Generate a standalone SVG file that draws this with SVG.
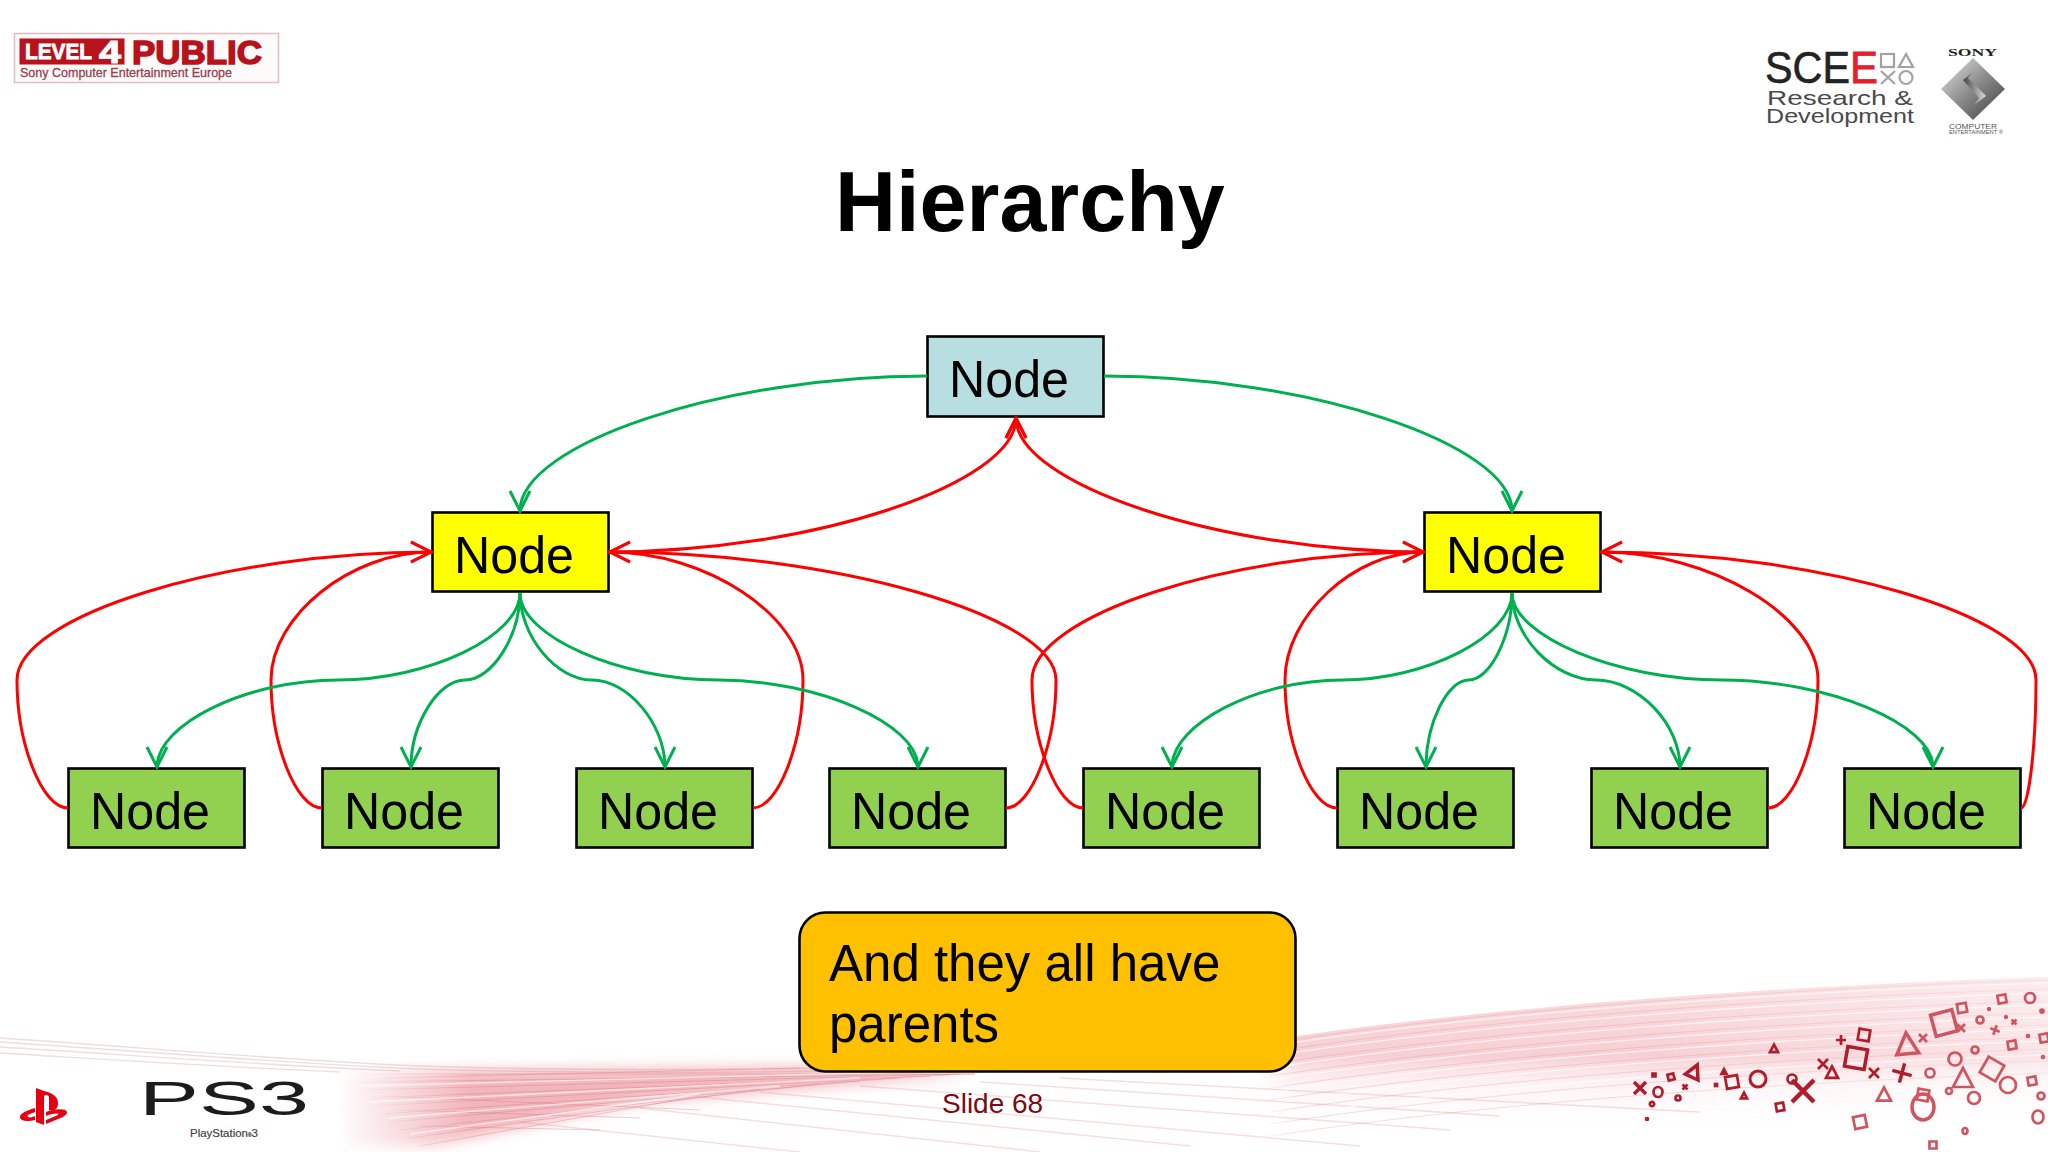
<svg xmlns="http://www.w3.org/2000/svg" width="2048" height="1152" viewBox="0 0 2048 1152">
<style>
text{font-family:"Liberation Sans",Arial,sans-serif}
.box{stroke:#000;stroke-width:2.6}
.lbl{font-size:52px;fill:#000}
.lf{fill:#92D050}.yl{fill:#FFFF00}.rt{fill:#B7DEE0}
.g{fill:none;stroke:#00B050;stroke-width:3;marker-end:url(#ag)}
.r{fill:none;stroke:#FF0000;stroke-width:3;marker-end:url(#ar)}
#sq,#tr,#ci,#xx,#pl{vector-effect:non-scaling-stroke}
.sym{fill:none;stroke-width:2.7}
.a{stroke:#b01c2a}.b{stroke:#cf5560}
.streakw{fill:none;stroke:#fff;stroke-width:1.3;opacity:.65}
.streakr{fill:none;stroke:#e27f88;stroke-width:.9;opacity:.3}
.fan{fill:none;stroke:#dd6a76;stroke-width:.9;opacity:.38}
.low{fill:none;stroke:#f3d3d6;stroke-width:1.5;opacity:.75}
</style>
<defs>
<marker id="ag" markerUnits="userSpaceOnUse" markerWidth="26" markerHeight="26" refX="22" refY="12" orient="auto" overflow="visible"><path d="M2 2L22 12L2 22" fill="none" stroke="#00B050" stroke-width="3"/></marker>
<marker id="ar" markerUnits="userSpaceOnUse" markerWidth="26" markerHeight="26" refX="22" refY="12" orient="auto" overflow="visible"><path d="M2 2L22 12L2 22" fill="none" stroke="#FF0000" stroke-width="3"/></marker>
<linearGradient id="wash2" gradientUnits="userSpaceOnUse" x1="0" y1="1000" x2="0" y2="1125"><stop offset="0" stop-color="#e87a85" stop-opacity=".28"/><stop offset=".45" stop-color="#e87a85" stop-opacity=".36"/><stop offset=".68" stop-color="#f0a3aa" stop-opacity=".12"/><stop offset="1" stop-color="#f6c4c8" stop-opacity="0"/></linearGradient>
<linearGradient id="fadeH" gradientUnits="userSpaceOnUse" x1="335" y1="0" x2="470" y2="0"><stop offset="0" stop-color="#000"/><stop offset="1" stop-color="#fff"/></linearGradient>
<mask id="fade" maskUnits="userSpaceOnUse" x="0" y="950" width="2048" height="202"><rect x="0" y="950" width="2048" height="202" fill="url(#fadeH)"/></mask>
<linearGradient id="fadeR" gradientUnits="userSpaceOnUse" x1="1250" y1="0" x2="2048" y2="0"><stop offset="0" stop-color="#000"/><stop offset=".06" stop-color="#fff"/><stop offset=".5" stop-color="#fff"/><stop offset="1" stop-color="#888"/></linearGradient>
<mask id="fadeRight" maskUnits="userSpaceOnUse" x="1200" y="950" width="848" height="202"><rect x="1200" y="950" width="848" height="202" fill="url(#fadeR)"/></mask>
<filter id="soft" x="-10%" y="-30%" width="120%" height="160%"><feGaussianBlur stdDeviation="7"/></filter>
<linearGradient id="dia" x1="0" y1="0" x2="1" y2="1"><stop offset="0" stop-color="#e8e8e8"/><stop offset=".5" stop-color="#8a8a8a"/><stop offset="1" stop-color="#3c3c3c"/></linearGradient>
<linearGradient id="dia2" x1="0" y1="0" x2="1" y2="0"><stop offset="0" stop-color="#444"/><stop offset="1" stop-color="#ddd"/></linearGradient>
<path id="edge2" d="M1270 1040C1500 1005 1800 985 2048 977"/>
<rect id="sq" x="-1" y="-1" width="2" height="2"/>
<polygon id="tr" points="0,-1.1 1,.8 -1,.8"/>
<circle id="ci" r="1"/>
<path id="xx" d="M-1 -1L1 1M1 -1L-1 1"/>
<path id="pl" d="M-1 0L1 0M0 -1L0 1"/>
</defs>
<rect width="2048" height="1152" fill="#fff"/>

<g id="background">
<g fill="none" stroke="#e8cfd1" stroke-width="1.4" opacity=".7">
<path d="M0 1038C150 1048 280 1060 420 1066C600 1072 760 1070 900 1066"/><path d="M0 1042C150 1052 280 1063 420 1069C600 1074 740 1073 860 1070"/><path d="M0 1047C130 1055 260 1065 400 1071"/><path d="M0 1053C100 1059 220 1067 340 1072"/>
</g>
<g class="low">
<path d="M520 1122L800 1152"/><path d="M640 1108L1040 1152"/><path d="M700 1097L1190 1146"/><path d="M760 1092L1360 1146"/><path d="M860 1086L1450 1130"/><path d="M980 1082L1500 1116"/><path d="M1060 1078L1700 1112"/>
</g>
<g mask="url(#fade)">
<path d="M330 1072L800 1067L975 1074L640 1102L430 1146L340 1146Z" fill="#e98a94" opacity=".62" filter="url(#soft)"/>
<path class="fan" d="M360 1074L975 1074"/><path class="fan" d="M360 1082L975 1074"/><path class="fan" d="M360 1090L960 1074"/><path class="fan" d="M370 1098L950 1075"/><path class="fan" d="M370 1106L930 1076"/><path class="fan" d="M380 1114L900 1078"/><path class="fan" d="M390 1122L860 1081"/><path class="fan" d="M400 1130L820 1084"/><path class="fan" d="M410 1138L760 1089"/><path class="fan" d="M420 1146L700 1096"/>
<path class="fan" d="M380 1078L800 1068"/><path class="fan" d="M380 1096L700 1110"/><path class="fan" d="M400 1110L640 1118"/><path class="fan" d="M420 1126L600 1130"/>
<path class="streakw" d="M360 1086L900 1072"/><path class="streakw" d="M370 1102L860 1078"/><path class="streakw" d="M390 1118L780 1086"/><path class="streakw" d="M410 1134L700 1094"/>
</g>
<g mask="url(#fadeRight)">
<path d="M1200 1050L1270 1040C1500 1005 1800 985 2048 977L2048 1152L1200 1152Z" fill="url(#wash2)"/>
<use href="#edge2" class="streakr" y="3"/><use href="#edge2" class="streakr" y="12"/><use href="#edge2" class="streakr" y="24"/><use href="#edge2" class="streakr" y="36"/><use href="#edge2" class="streakr" y="48"/><use href="#edge2" class="streakr" y="60"/><use href="#edge2" class="streakr" y="72"/><use href="#edge2" class="streakr" y="84"/><use href="#edge2" class="streakr" y="96"/>
<use href="#edge2" class="streakw" y="6"/><use href="#edge2" class="streakw" y="16"/><use href="#edge2" class="streakw" y="28"/><use href="#edge2" class="streakw" y="40"/><use href="#edge2" class="streakw" y="52"/><use href="#edge2" class="streakw" y="64"/><use href="#edge2" class="streakw" y="78"/>
</g>
</g>

<g id="symbols" class="sym">
<g class="a">
<use href="#xx" transform="translate(1640 1088) scale(6)" stroke-width="3.500"/><use href="#ci" transform="translate(1658 1092) scale(4.500 5)"/><use href="#sq" transform="translate(1654 1075) scale(1.500)"/><use href="#sq" transform="translate(1671 1077) rotate(-15) scale(3)"/>
<use href="#tr" transform="translate(1694 1072) rotate(25) scale(7)" stroke-width="3.500"/><use href="#xx" transform="translate(1685 1087) scale(2.500)"/><use href="#ci" transform="translate(1678 1098) scale(2.500)"/><use href="#ci" transform="translate(1652 1104) scale(2.200)"/><use href="#ci" transform="translate(1647 1119) scale(1)"/>
<use href="#tr" transform="translate(1724 1072) scale(2.500)"/><use href="#sq" transform="translate(1716 1085) scale(1)"/><use href="#sq" transform="translate(1732 1082) rotate(-10) scale(6)"/><use href="#ci" transform="translate(1758 1079) scale(8)" stroke-width="3"/><use href="#tr" transform="translate(1744 1096) scale(3)"/><use href="#tr" transform="translate(1774 1049) scale(4)"/>
<use href="#ci" transform="translate(1792 1079) scale(4.500)"/><use href="#xx" transform="translate(1803 1091) scale(11)" stroke-width="4.500"/><use href="#sq" transform="translate(1780 1107) rotate(-10) scale(3.800)"/><use href="#xx" transform="translate(1823 1064) scale(5)"/><use href="#tr" transform="translate(1832 1073) scale(6)"/><use href="#pl" transform="translate(1841 1040) scale(5)"/>
<use href="#sq" transform="translate(1864 1035) rotate(10) scale(5.500)"/><use href="#sq" transform="translate(1856 1058) rotate(10) scale(10)" stroke-width="3.500"/><use href="#xx" transform="translate(1874 1073) scale(5)"/><use href="#pl" transform="translate(1902 1073) rotate(15) scale(10)" stroke-width="3.500"/>
</g>
<g class="b">
<use href="#tr" transform="translate(1907 1045) rotate(-5) scale(11)" stroke-width="3.500"/><use href="#xx" transform="translate(1923 1038) scale(4)"/><use href="#sq" transform="translate(1944 1023) rotate(-15) scale(11)" stroke-width="3.500"/><use href="#sq" transform="translate(1962 1008) rotate(-10) scale(4.500)"/><use href="#xx" transform="translate(1961 1028) scale(4)"/><use href="#sq" transform="translate(2002 999) rotate(-10) scale(4)"/><use href="#ci" transform="translate(2030 998) scale(5)"/><use href="#ci" transform="translate(1980 1020) scale(3.500)"/><use href="#pl" transform="translate(1989 1009) scale(2)"/><use href="#pl" transform="translate(2006 1017) scale(2)"/><use href="#xx" transform="translate(2014 1022) scale(2.500)"/><use href="#pl" transform="translate(1995 1030) rotate(20) scale(5)"/>
<use href="#ci" transform="translate(2042 1011) scale(1.500)"/><use href="#ci" transform="translate(2028 1036) scale(1)"/><use href="#sq" transform="translate(2044 1038) rotate(-10) scale(4)"/><use href="#sq" transform="translate(2012 1045) rotate(-10) scale(4)"/><use href="#ci" transform="translate(1975 1050) scale(3.500)"/><use href="#ci" transform="translate(1955 1059) scale(6.500)"/><use href="#ci" transform="translate(2043 1057) scale(1)"/><use href="#sq" transform="translate(1992 1069) rotate(30) scale(9)"/><use href="#ci" transform="translate(1930 1073) scale(4.500)"/><use href="#tr" transform="translate(1963 1079) scale(10)"/><use href="#ci" transform="translate(2008 1085) scale(8)"/><use href="#sq" transform="translate(2032 1081) rotate(-10) scale(4)"/><use href="#ci" transform="translate(1949 1091) scale(3)"/><use href="#ci" transform="translate(1974 1098) scale(6)"/><use href="#ci" transform="translate(2041 1096) scale(3.500)"/><use href="#tr" transform="translate(1884 1095) scale(7)"/><use href="#sq" transform="translate(1923 1095) rotate(10) scale(5.500)"/><use href="#ci" transform="translate(1923 1107) scale(11 13)" stroke-width="3.500"/><use href="#sq" transform="translate(1860 1122) rotate(-12) scale(6)"/><use href="#ci" transform="translate(1965 1131) scale(2.500 3)"/><use href="#sq" transform="translate(1933 1145) scale(3.500)"/><use href="#ci" transform="translate(2038 1117) scale(5.500 6.500)"/>
</g>
</g>

<g id="logo-level4">
<rect x="14.500" y="33.500" width="264" height="49" fill="#fdfafa" stroke="#e4bcc0" stroke-width="1.500"/>
<rect x="19.500" y="38.500" width="105" height="26" fill="#b8121c"/>
<text x="25" y="59" font-size="22" font-weight="700" fill="#fff" stroke="#fff" stroke-width=".8" textLength="67" lengthAdjust="spacingAndGlyphs">LEVEL</text>
<text x="99" y="63" font-size="31" font-weight="700" fill="#fff" stroke="#fff" stroke-width="1" textLength="22" lengthAdjust="spacingAndGlyphs">4</text>
<text x="132" y="64" font-size="33" font-weight="700" fill="#b8121c" stroke="#b8121c" stroke-width="1.500" textLength="130" lengthAdjust="spacingAndGlyphs">PUBLIC</text>
<text x="20" y="77" font-size="13.500" fill="#96404e" stroke="#96404e" stroke-width=".3" textLength="212" lengthAdjust="spacingAndGlyphs">Sony Computer Entertainment Europe</text>
</g>

<g id="logo-scee">
<text x="1765" y="83" font-size="45" fill="#232323" stroke="#232323" stroke-width=".6" textLength="85" lengthAdjust="spacingAndGlyphs">SCE</text>
<text x="1850" y="83" font-size="45" fill="#e3202b" stroke="#e3202b" stroke-width=".8" textLength="28" lengthAdjust="spacingAndGlyphs">E</text>
<g fill="none" stroke="#a2a2a2" stroke-width="2.200">
<rect x="1881" y="54" width="13" height="13"/><polygon points="1906,54 1913,67 1899,67"/><path d="M1881 71L1895 84M1895 71L1881 84"/><circle cx="1906" cy="77.500" r="6.500"/>
</g>
<text x="1767" y="105" font-size="21" fill="#4a4a4a" textLength="146" lengthAdjust="spacingAndGlyphs">Research &amp;</text>
<text x="1766" y="123" font-size="21" fill="#4a4a4a" textLength="148" lengthAdjust="spacingAndGlyphs">Development</text>
</g>

<g id="logo-sony">
<text x="1948" y="56" font-size="11" font-weight="700" fill="#222" style="font-family:'Liberation Serif',serif" textLength="49" lengthAdjust="spacingAndGlyphs">SONY</text>
<polygon points="1973,58 2005,89 1973,120 1941,89" fill="url(#dia)"/>
<polygon points="1973,72 1963,80 1979,98 1973,106 1986,96 1968,78" fill="url(#dia2)"/>
<text x="1949" y="129" font-size="8" fill="#555" textLength="48" lengthAdjust="spacingAndGlyphs">COMPUTER</text>
<text x="1949" y="134" font-size="4.500" fill="#555" textLength="54" lengthAdjust="spacingAndGlyphs">ENTERTAINMENT ®</text>
</g>

<g id="logo-ps">
<path d="M36 1088L44 1091C52 1093 58 1096 58 1103C58 1110 53 1112 49 1110L49 1097C49 1095 44 1094 44 1097L44 1125L36 1122Z" fill="#e60012"/>
<path d="M20 1117C20 1113 28 1110 35 1108L35 1112C30 1114 26 1115 28 1117C30 1118 33 1117 35 1116L35 1120C28 1122 20 1121 20 1117ZM46 1112C54 1109 66 1108 67 1112C68 1116 58 1119 46 1124L46 1120L58 1115C60 1113 54 1113 46 1116Z" fill="#e60012"/>
<text x="139" y="1115" font-size="49" fill="#1c1c1c" textLength="170" lengthAdjust="spacingAndGlyphs">PS3</text>
<text x="190" y="1137" font-size="11.500" fill="#444" stroke="#444" stroke-width=".2" textLength="68" lengthAdjust="spacingAndGlyphs">PlayStation<tspan font-size="5">®</tspan>3</text>
</g>

<text id="title" x="835" y="231" font-size="84.500" font-weight="700" fill="#000">Hierarchy</text>

<g id="node-root"><rect class="box rt" x="927.500" y="336.500" width="176" height="80"/><text class="lbl" x="949" y="397" textLength="120" lengthAdjust="spacingAndGlyphs">Node</text></g>
<g id="node-a"><rect class="box yl" x="432.500" y="512.500" width="176" height="79"/><text class="lbl" x="454" y="573" textLength="120" lengthAdjust="spacingAndGlyphs">Node</text></g>
<g id="node-b"><rect class="box yl" x="1424.500" y="512.500" width="176" height="79"/><text class="lbl" x="1446" y="573" textLength="120" lengthAdjust="spacingAndGlyphs">Node</text></g>
<g id="node-a1"><rect class="box lf" x="68.500" y="768.500" width="176" height="79"/><text class="lbl" x="90" y="829" textLength="120" lengthAdjust="spacingAndGlyphs">Node</text></g>
<g id="node-a2"><rect class="box lf" x="322.500" y="768.500" width="176" height="79"/><text class="lbl" x="344" y="829" textLength="120" lengthAdjust="spacingAndGlyphs">Node</text></g>
<g id="node-a3"><rect class="box lf" x="576.500" y="768.500" width="176" height="79"/><text class="lbl" x="598" y="829" textLength="120" lengthAdjust="spacingAndGlyphs">Node</text></g>
<g id="node-a4"><rect class="box lf" x="829.500" y="768.500" width="176" height="79"/><text class="lbl" x="851" y="829" textLength="120" lengthAdjust="spacingAndGlyphs">Node</text></g>
<g id="node-b1"><rect class="box lf" x="1083.500" y="768.500" width="176" height="79"/><text class="lbl" x="1105" y="829" textLength="120" lengthAdjust="spacingAndGlyphs">Node</text></g>
<g id="node-b2"><rect class="box lf" x="1337.500" y="768.500" width="176" height="79"/><text class="lbl" x="1359" y="829" textLength="120" lengthAdjust="spacingAndGlyphs">Node</text></g>
<g id="node-b3"><rect class="box lf" x="1591.500" y="768.500" width="176" height="79"/><text class="lbl" x="1613" y="829" textLength="120" lengthAdjust="spacingAndGlyphs">Node</text></g>
<g id="node-b4"><rect class="box lf" x="1844.500" y="768.500" width="176" height="79"/><text class="lbl" x="1866" y="829" textLength="120" lengthAdjust="spacingAndGlyphs">Node</text></g>

<g id="connectors">
<path class="r" d="M608 552C812 552 1016 484 1016 418"/>
<path class="r" d="M1424 552C1220 552 1016 484 1016 418"/>
<path class="r" d="M68 808C42 808 17 744 17 680C17 616 224 552 431 552"/>
<path class="r" d="M322 808C296 808 271 744 271 680C271 616 351 552 431 552"/>
<path class="r" d="M753 808C778 808 803 744 803 680C803 616 706 552 610 552"/>
<path class="r" d="M1006 808C1031 808 1056 744 1056 680C1056 616 833 552 610 552"/>
<path class="r" d="M1083 808C1058 808 1032 744 1032 680C1032 616 1228 552 1423 552"/>
<path class="r" d="M1337 808C1311 808 1285 744 1285 680C1285 616 1354 552 1423 552"/>
<path class="r" d="M1768 808C1793 808 1818 744 1818 680C1818 616 1710 552 1602 552"/>
<path class="r" d="M2021 808C2029 808 2036 744 2036 680C2036 616 1819 552 1602 552"/>
<path class="g" d="M927 376C723 376 520 444 520 511"/>
<path class="g" d="M1104 376C1308 376 1512 444 1512 511"/>
<path class="g" d="M520 593C520 636 429 680 338 680C247 680 157 724 157 767"/>
<path class="g" d="M520 593C520 636 492 680 465 680C438 680 411 724 411 767"/>
<path class="g" d="M520 593C520 636 556 680 592 680C628 680 665 724 665 767"/>
<path class="g" d="M520 593C520 636 619 680 719 680C818 680 918 724 918 767"/>
<path class="g" d="M1512 593C1512 636 1427 680 1342 680C1257 680 1172 724 1172 767"/>
<path class="g" d="M1512 593C1512 636 1490 680 1469 680C1447 680 1426 724 1426 767"/>
<path class="g" d="M1512 593C1512 636 1554 680 1596 680C1638 680 1680 724 1680 767"/>
<path class="g" d="M1512 593C1512 636 1617 680 1722 680C1827 680 1933 724 1933 767"/>
</g>

<g id="callout">
<rect x="799.500" y="912.500" width="496" height="159" rx="26" fill="#FFC000" stroke="#000" stroke-width="2.600"/>
<text x="829" y="981" font-size="51" fill="#000">And they all have</text>
<text x="829" y="1042" font-size="51" fill="#000">parents</text>
</g>

<text id="slide-number" x="942" y="1113" font-size="28" fill="#7c0a12">Slide 68</text>
</svg>
